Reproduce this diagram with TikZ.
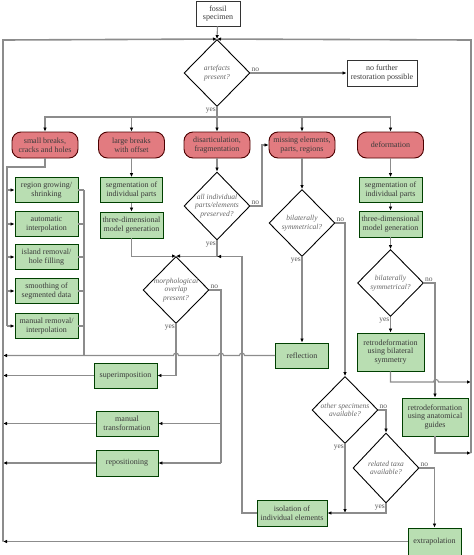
\documentclass[tikz,border=0pt]{standalone}
\usepackage{fontspec}
\setmainfont{Liberation Serif}
\usepackage{tikz}
\usetikzlibrary{shapes.geometric,arrows.meta}

\definecolor{linkgray}{HTML}{8C8C8C}
\definecolor{issuered}{HTML}{E27B80}
\definecolor{methodgreen}{HTML}{B9DEB2}
\definecolor{textgray}{HTML}{3A3A3A}

\tikzset{
	link/.style={linkgray, line width=1.1pt},
	arr/.style={link, -{Latex[length=4pt,width=3.6pt,color=black]}},
	frame/.style={line width=1.6pt},
	plainbox/.style={draw=black!80, line width=0.9pt, fill=white, align=center, inner sep=1pt, text=textgray, font=\fontsize{8}{8.6}\selectfont},
	issue/.style={plainbox, draw=black!70!red, fill=issuered, rounded corners=9pt, minimum width=66pt, minimum height=26pt},
	method/.style={plainbox, draw=black!75!green, fill=methodgreen, minimum height=25pt},
	question/.style={diamond, draw=black, line width=0.9pt, fill=white, inner sep=0pt, minimum width=66pt, minimum height=67pt},
	qtext/.style={align=center, text=black!60, font=\fontsize{7.5}{8.5}\selectfont\itshape},
	lbl/.style={text=black!65, font=\fontsize{7.5}{8}\selectfont, inner sep=1pt},
}

\begin{document}
\begin{tikzpicture}[x=1pt, y=-1pt]
	\useasboundingbox (0,0) rectangle (474,555);
	% loop back frame
	\coordinate (frameTL) at (3,40);
	\coordinate (frameTR) at (471,40);
	\coordinate (frameBR) at (471,453);

	% start
	\node[plainbox, minimum width=44pt, minimum height=25pt] (fossil) at (218,13.5) {fossil\\specimen};
	\node[question, label={[qtext, name=artefactsT]center:{artefacts\\present?}}] (artefacts) at (217,73) {};
	\node[plainbox, minimum width=70pt, minimum height=26pt] (nofurther) at (382,73) {no further\\restoration possible};

	% kinds of artefacts
	\node[issue] (small) at (45,145) {small breaks,\\cracks and holes};
	\node[issue] (large) at (131.5,145) {large breaks\\with offset};
	\node[issue] (disart) at (217,145) {disarticulation,\\fragmentation};
	\node[issue] (missing) at (302,145) {missing elements,\\parts, regions};
	\node[issue] (deform) at (390.5,145) {deformation};

	% small breaks
	\node[method, minimum width=63pt] (grow) at (46.5,190) {region growing/\\shrinking};
	\node[method, minimum width=63pt] (interp) at (46.5,224) {automatic\\interpolation};
	\node[method, minimum width=63pt] (island) at (46.5,257) {island removal/\\hole filling};
	\node[method, minimum width=63pt] (smooth) at (46.5,291) {smoothing of\\segmented data};
	\node[method, minimum width=63pt] (manrem) at (46.5,326) {manual removal/\\interpolation};

	% large breaks and deformation
	\node[method, minimum width=62pt] (segL) at (131.5,190) {segmentation of\\individual parts};
	\node[method, minimum width=63pt, minimum height=26pt] (modelL) at (131.5,225) {three-dimensional\\model generation};
	\node[method, minimum width=63pt] (segR) at (390.5,190) {segmentation of\\individual parts};
	\node[method, minimum width=63pt, minimum height=26pt] (modelR) at (390.5,224) {three-dimensional\\model generation};

	% questions
	\node[question, minimum height=68pt, label={[qtext, name=allpartsT]center:{all individual\\parts/elements\\preserved?}}] (allparts) at (217,206) {};
	\node[question, label={[qtext, name=bilatAT]center:{bilaterally\\symmetrical?}}] (bilatA) at (302,223) {};
	\node[question, label={[qtext, name=bilatBT]center:{bilaterally\\symmetrical?}}] (bilatB) at (390.5,283) {};
	\node[question, label={[qtext, name=morphT]center:{morphological\\overlap\\present?}}] (morph) at (176,290) {};
	\node[question, label={[qtext, name=otherT]center:{other specimens\\available?}}] (other) at (345,410) {};
	\node[question, minimum height=70pt, label={[qtext, name=relatedT]center:{related taxa\\available?}}] (related) at (386,468) {};

	% methods
	\node[method, minimum width=53pt] (reflection) at (302,355.5) {reflection};
	\node[method, minimum width=67pt, minimum height=38pt] (retroS) at (390.5,352) {retrodeformation\\using bilateral\\symmetry};
	\node[method, minimum width=66pt, minimum height=38pt] (retroG) at (435,417) {retrodeformation\\using anatomical\\guides};
	\node[method, minimum width=63pt] (superimp) at (125.5,375.5) {superimposition};
	\node[method, minimum width=62pt] (manualT) at (127,423.5) {manual\\transformation};
	\node[method, minimum width=62pt, minimum height=26pt] (repos) at (127,463) {repositioning};
	\node[method, minimum width=70pt, minimum height=26pt] (isolation) at (292,513) {isolation of\\individual elements};
	\node[method, minimum width=53pt, minimum height=27pt] (extrap) at (434.5,541.5) {extrapolation};

	% yes / no
	\node[lbl, anchor=south west] (noArt) at (artefacts.east) {no};
	\node[lbl, anchor=north east] (yesArt) at (artefacts.south) {yes};
	\node[lbl, anchor=south west] (noAll) at (allparts.east) {no};
	\node[lbl, anchor=north east] (yesAll) at (allparts.south) {yes};
	\node[lbl, anchor=south west] (noBilatA) at (bilatA.east) {no};
	\node[lbl, anchor=north east] (yesBilatA) at (bilatA.south) {yes};
	\node[lbl, anchor=south west] (noBilatB) at (bilatB.east) {no};
	\node[lbl, anchor=north east] (yesBilatB) at (bilatB.south) {yes};
	\node[lbl, anchor=south west] (noMorph) at (morph.east) {no};
	\node[lbl, anchor=north east] (yesMorph) at (morph.south) {yes};
	\node[lbl, anchor=south west] (noOther) at (other.east) {no};
	\node[lbl, anchor=north east] (yesOther) at (other.south) {yes};
	\node[lbl, anchor=south west] (noRelated) at (related.east) {no};
	\node[lbl, anchor=north east] (yesRelated) at (related.south) {yes};

	% top
	\draw[arr] (fossil) -- (artefacts.north);
	\draw[arr] (artefacts.east) -- (nofurther.west);
	\coordinate (split) at (217,117);
	\draw[link] (artefacts.south) -- (split);
	\foreach \b in {small,large,disart,missing,deform}
		\draw[arr] (split) -| (\b.north);

	% small breaks
	\coordinate (busL) at (7,167);
	\coordinate (busR) at (84,355.5);
	\draw[link] (small.south) |- (busL) -- (busL |- manrem.west);
	\foreach \g in {grow,interp,island,smooth,manrem}
	{
		\draw[arr] (busL |- \g.west) -- (\g.west);
		\draw[link] (\g.east) -- (busR |- \g.east);
	}
	\draw[link] (busR |- grow.east) -- (busR);
	\draw[arr] (reflection.west) -- (244.5,355.5) arc (0:180:2.5pt) -- (223.5,355.5) arc (0:180:2.5pt) -- (178.5,355.5) arc (0:180:2.5pt) -- (frameTL |- reflection.west);

	% large breaks, disarticulation
	\draw[arr] (large) -- (segL);
	\draw[arr] (segL) -- (modelL);
	\draw[arr] (modelL.south) |- (morph.north);
	\draw[arr] (disart) -- (allparts);
	\draw[arr] (allparts.east) -- (262,206) |- (missing.west);
	\draw[arr] (allparts.south) |- (morph.north);
	\coordinate (isoUp) at (242,256.5);
	\draw[arr] (isolation.west) -| (isoUp) -- (allparts.south |- isoUp);

	% missing elements
	\draw[arr] (missing) -- (bilatA);
	\draw[arr] (bilatA) -- (reflection);
	\draw[arr] (bilatA.east) -| (other.north);
	\draw[arr] (other.east) -| (related.north);
	\draw[arr] (other.south) -- (other.south |- isolation.east);
	\draw[arr] (related.south) |- (isolation.east);
	\draw[arr] (related.east) -| (extrap.north);
	\draw[arr] (extrap.west) -- (frameTL |- extrap.west);

	% deformation
	\draw[arr] (deform) -- (segR);
	\draw[arr] (segR) -- (modelR);
	\draw[arr] (modelR) -- (bilatB);
	\draw[arr] (bilatB) -- (retroS);
	\draw[arr] (bilatB.east) -| (retroG.north);
	\coordinate (hopR) at (433.5,382);
	\draw[arr] (retroS.south) |- (hopR) arc (180:0:2.5pt) -- (frameTR |- hopR);
	\draw[arr] (retroG.south) |- (frameBR);

	% morphological overlap
	\draw[arr] (morph.south) |- (superimp.east);
	\coordinate (noM) at (221,290);
	\draw[link] (morph.east) -- (noM) -- (noM |- repos.east);
	\draw[arr] (noM |- manualT.east) -- (manualT.east);
	\draw[arr] (noM |- repos.east) -- (repos.east);
	\foreach \m in {superimp,manualT,repos}
		\draw[arr] (\m.west) -- (frameTL |- \m.west);

	% back to the start
	\draw[arr, frame] (frameTL |- extrap.west) -- (frameTL) -- (artefacts.north);
	\draw[arr, frame] (frameBR) -- (frameTR) -- (artefacts.north);
\end{tikzpicture}
\end{document}
